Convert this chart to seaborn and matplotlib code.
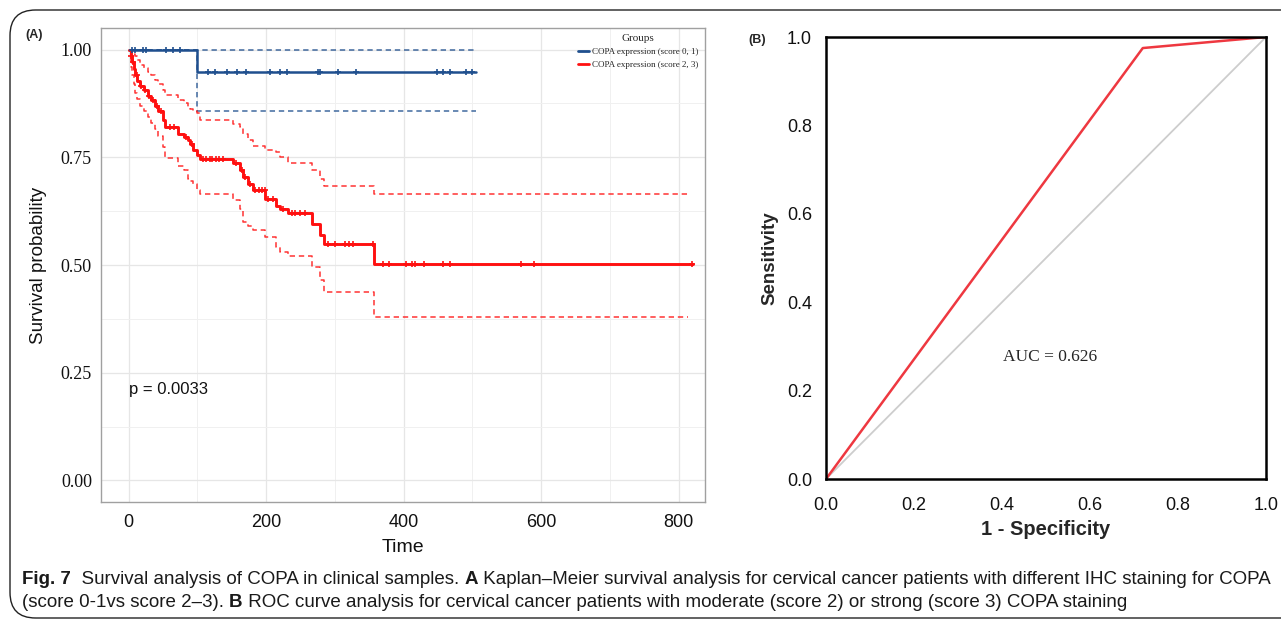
import numpy as np
import pandas as pd
import matplotlib
matplotlib.use("Agg")
import matplotlib.pyplot as plt
import seaborn as sns
from matplotlib.patches import FancyBboxPatch
from matplotlib.lines import Line2D
from matplotlib.ticker import MultipleLocator

# ---------------- data ----------------
red_time  = [0, 3, 5, 8, 10, 13, 17, 22, 28, 32, 38, 43, 50, 53, 72, 80, 87, 90, 94, 99, 104,
             152, 162, 167, 174, 181, 199, 215, 220, 232, 267, 278, 284, 357]
red_surv  = [1.0, 0.985, 0.97, 0.955, 0.94, 0.927, 0.915, 0.905, 0.893, 0.882, 0.87, 0.858, 0.836, 0.82,
             0.805, 0.797, 0.789, 0.78, 0.766, 0.755, 0.745,
             0.736, 0.72, 0.704, 0.689, 0.674, 0.654, 0.637, 0.63, 0.62, 0.596, 0.569, 0.549, 0.502]
red_upper = [1.0, 1.0, 0.995, 0.99, 0.985, 0.975, 0.965, 0.958, 0.948, 0.94, 0.93, 0.92, 0.905, 0.895,
             0.882, 0.875, 0.866, 0.862, 0.858, 0.852, 0.836,
             0.828, 0.82, 0.805, 0.789, 0.777, 0.766, 0.762, 0.751, 0.737, 0.72, 0.70, 0.683, 0.664]
red_lower = [1.0, 0.96, 0.94, 0.92, 0.90, 0.885, 0.87, 0.858, 0.843, 0.83, 0.815, 0.80, 0.775, 0.748,
             0.73, 0.72, 0.70, 0.695, 0.689, 0.675, 0.664,
             0.65, 0.631, 0.60, 0.59, 0.581, 0.566, 0.542, 0.53, 0.521, 0.496, 0.465, 0.438, 0.38]
red_last_time = 820
red_ci_last_time = 814
red_censor = [4, 7, 12, 18, 24, 30, 35, 41, 47, 60, 66, 84, 92,
              108, 113, 118, 122, 127, 131, 137, 156, 165, 170, 177,
              184, 189, 194, 198, 203, 210, 225, 237, 242, 249, 256,
              290, 300, 314, 321, 326, 356,
              370, 378, 403, 412, 416, 430, 457, 467, 570, 590, 819]

blue_time  = [0, 100]
blue_surv  = [1.0, 0.947]
blue_upper = [1.0, 1.0]
blue_lower = [1.0, 0.857]
blue_last_time = 505
blue_censor = [5, 10, 21, 26, 54, 65, 75, 116, 126, 143, 158, 171, 205, 220, 230,
               275, 279, 304, 330, 448, 457, 467, 491, 500]

group_labels = ["COPA expression (score 0, 1)", "COPA expression (score 2, 3)"]
p_text = "p = 0.0033"

roc_fpr = [0.0, 0.72, 1.0]
roc_tpr = [0.0, 0.975, 1.0]
auc_text = "AUC = 0.626"

# ---------------- styling ----------------
W, H = 1281, 622
BLUE = "#1F4F8E"
RED = "#FF1010"
SERIF = ["Liberation Serif", "DejaVu Serif"]
SANS = ["Liberation Sans", "DejaVu Sans"]
CAPFAM = ["Liberation Sans Narrow", "Liberation Sans", "DejaVu Sans"]

sns.set_theme(style="white")
plt.rcParams["font.family"] = SANS

fig = plt.figure(figsize=(W / 100, H / 100), dpi=100)

# outer rounded frame
frame = FancyBboxPatch((10 / W, 1 - 618 / H), 1.5, (618 - 10) / H,
                       boxstyle="round,pad=0,rounding_size=0.02",
                       transform=fig.transFigure, fill=False, ec="#222222", lw=1.0,
                       mutation_aspect=W / H)
fig.patches.append(frame)


def step_df(times, vals, last):
    t = list(times) + [last]
    v = list(vals) + [vals[-1]]
    return pd.DataFrame({"t": t, "v": v})


def step_at(times, vals, qs):
    idx = np.searchsorted(np.asarray(times), np.asarray(qs), side="right") - 1
    return np.asarray(vals)[idx]


# ---------------- Panel A: Kaplan-Meier ----------------
axA = fig.add_axes([101 / W, 1 - 502 / H, 604 / W, 474 / H])
axA.set_facecolor("white")
axA.set_xlim(-40, 838)
axA.set_ylim(-0.05, 1.05)
axA.xaxis.set_major_locator(MultipleLocator(200))
axA.xaxis.set_minor_locator(MultipleLocator(100))
axA.yaxis.set_major_locator(MultipleLocator(0.25))
axA.yaxis.set_minor_locator(MultipleLocator(0.125))
axA.grid(True, which="major", color="#E6E6E6", lw=0.9)
axA.grid(True, which="minor", color="#F0F0F0", lw=0.7)
axA.set_axisbelow(True)

groups = [
    (blue_time, blue_surv, blue_upper, blue_lower, blue_last_time, blue_last_time, blue_censor, BLUE, 1.8),
    (red_time, red_surv, red_upper, red_lower, red_last_time, red_ci_last_time, red_censor, RED, 2.1),
]
for times, surv, up, lo, last, cilast, cens, col, lw in groups:
    for vals in (up, lo):
        d = step_df(times, vals, cilast)
        sns.lineplot(data=d, x="t", y="v", ax=axA, estimator=None, sort=False,
                     drawstyle="steps-post", color=col, lw=1.1, linestyle=(0, (3.5, 2.5)),
                     alpha=0.85)
    d = step_df(times, surv, last)
    sns.lineplot(data=d, x="t", y="v", ax=axA, estimator=None, sort=False,
                 drawstyle="steps-post", color=col, lw=lw)
    cd = pd.DataFrame({"t": cens, "v": step_at(times, surv, cens)})
    sns.scatterplot(data=cd, x="t", y="v", ax=axA, marker="+", s=24, color=col,
                    linewidth=1.2, zorder=5)

for sp in axA.spines.values():
    sp.set_visible(True)
    sp.set_color("#A0A0A0")
    sp.set_linewidth(1.0)
axA.tick_params(axis="both", which="major", direction="out", length=3.5, width=0.8,
                color="#888888", labelcolor="#111111")
axA.tick_params(axis="both", which="minor", length=0)
axA.tick_params(axis="x", labelsize=13, pad=5)
axA.tick_params(axis="y", labelsize=13, pad=3)
axA.set_yticks([0, 0.25, 0.5, 0.75, 1.0])
axA.set_yticklabels(["0.00", "0.25", "0.50", "0.75", "1.00"], family=SERIF)
axA.set_xlabel("Time", fontsize=14, labelpad=6, color="#111111")
axA.set_ylabel("Survival probability", fontsize=13.5, labelpad=10, color="#111111")
axA.text(0, 0.21, p_text, fontsize=12, ha="left", va="center", color="#111111")

handles = [Line2D([], [], color=BLUE, lw=2), Line2D([], [], color=RED, lw=2)]
leg = axA.legend(handles, group_labels, title="Groups", loc="upper right",
                 bbox_to_anchor=(1.0, 1.0), frameon=False, prop={"family": SERIF, "size": 6.5},
                 handlelength=1.3, handletextpad=0.3, labelspacing=0.5, borderaxespad=0.3)
leg.get_title().set_family(SERIF)
leg.get_title().set_fontsize(8)

fig.text(25 / W, 1 - 35 / H, "(A)", fontsize=9, fontweight="bold", ha="left", va="center")

# ---------------- Panel B: ROC ----------------
axB = fig.add_axes([826 / W, 1 - 479 / H, 440 / W, 442 / H])
axB.set_facecolor("white")
axB.set_xlim(0, 1)
axB.set_ylim(0, 1)
diag = pd.DataFrame({"x": [0.0, 1.0], "y": [0.0, 1.0]})
sns.lineplot(data=diag, x="x", y="y", ax=axB, color="#CDCDCD", lw=1.3, estimator=None)
roc = pd.DataFrame({"fpr": roc_fpr, "tpr": roc_tpr})
sns.lineplot(data=roc, x="fpr", y="tpr", ax=axB, color="#EE3840", lw=1.8, estimator=None,
             sort=False)
for sp in axB.spines.values():
    sp.set_visible(True)
    sp.set_color("black")
    sp.set_linewidth(1.8)
axB.set_xticks([0, 0.2, 0.4, 0.6, 0.8, 1.0])
axB.set_yticks([0, 0.2, 0.4, 0.6, 0.8, 1.0])
axB.set_xticklabels(["0.0", "0.2", "0.4", "0.6", "0.8", "1.0"])
axB.set_yticklabels(["0.0", "0.2", "0.4", "0.6", "0.8", "1.0"])
axB.tick_params(axis="both", direction="out", length=7, width=1.8, color="black",
                labelsize=13, labelcolor="#111111")
axB.tick_params(axis="x", pad=6)
axB.tick_params(axis="y", pad=3)
axB.set_xlabel("1 - Specificity", fontsize=14.5, fontweight="bold", labelpad=4)
axB.set_ylabel("Sensitivity", fontsize=13.5, fontweight="bold", labelpad=6)
axB.text(0.51, 0.276, auc_text, family=SERIF, fontsize=12.5, ha="center", va="center")
fig.text(748 / W, 1 - 40 / H, "(B)", fontsize=9, fontweight="bold", ha="left", va="center")

# ---------------- caption ----------------
line1 = [("Fig. 7", "bold"), ("  Survival analysis of COPA in clinical samples. ", "normal"),
         ("A", "bold"),
         (" Kaplan\u2013Meier survival analysis for cervical cancer patients with different IHC staining for COPA",
          "normal")]
line2 = [("(score 0-1vs score 2\u20133). ", "normal"), ("B", "bold"),
         (" ROC curve analysis for cervical cancer patients with moderate (score 2) or strong (score 3) COPA staining",
          "normal")]

renderer = fig.canvas.get_renderer()


def measure(runs, size):
    total = 0
    for s, w in runs:
        t = fig.text(0, 0, s, fontsize=size, fontweight=w, family=CAPFAM)
        total += t.get_window_extent(renderer=renderer).width
        t.remove()
    return total


base = 12
wid = measure(line1, base)
cap_size = base * (1253 / wid)


def draw_runs(x_px, y_px, runs, size):
    x = x_px
    for s, w in runs:
        t = fig.text(x / W, 1 - y_px / H, s, fontsize=size, fontweight=w, family=CAPFAM,
                     ha="left", va="baseline", color="#1a1a1a")
        x += t.get_window_extent(renderer=renderer).width


draw_runs(22, 584, line1, cap_size)
draw_runs(22, 607, line2, cap_size)

fig.savefig("out.png", dpi=100, facecolor="white")
